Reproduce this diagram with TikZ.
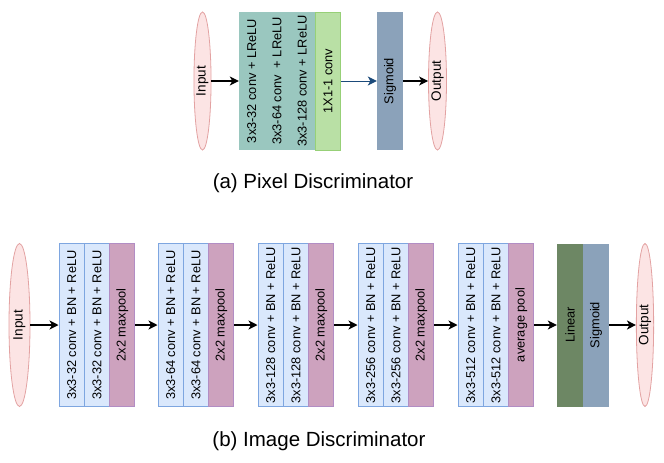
\documentclass[tikz,border=0pt]{standalone}
\usepackage{fontspec}
\setmainfont{Liberation Sans}
\usepackage{tikz}
\usetikzlibrary{arrows.meta,positioning,shapes.geometric}
\definecolor{iopink}{HTML}{FCE4E4}
\definecolor{iopinkline}{HTML}{E3A2A2}
\definecolor{lreluteal}{HTML}{9AC7BF}
\definecolor{onebyone}{HTML}{B9E0A5}
\definecolor{onebyoneline}{HTML}{97D077}
\definecolor{sigslate}{HTML}{8BA2BA}
\definecolor{convblue}{HTML}{DAE8FC}
\definecolor{convblueline}{HTML}{7EA6E0}
\definecolor{poolmauve}{HTML}{CDA2BE}
\definecolor{poolmauveline}{HTML}{B28DC4}
\definecolor{linmoss}{HTML}{6D8764}
\definecolor{flowblue}{HTML}{1B4A7A}
\tikzset{
  layer/.style={rotate=90,minimum height=25.3pt,inner sep=0pt,
    font=\fontsize{12.8}{14}\selectfont},
  tallA/.style={minimum width=138pt},
  tallB/.style={minimum width=163pt},
  ioball/.style={ellipse,rotate=90,fill=iopink,draw=iopinkline,line width=0.8pt,
    inner sep=0pt,font=\fontsize{13.5}{15}\selectfont},
  flow/.style={-{Stealth[length=9pt,width=9pt,inset=2.5pt]},line width=1.2pt},
}
\newcommand{\convstage}[4]{%
  % two conv columns and one pooling column, left edge at #2
  \node[layer,tallB,fill=convblue,draw=convblueline,line width=1pt] (#1a) at (#2+12.65,325)
    {3x3-#3 conv + BN + ReLU};
  \node[layer,tallB,fill=convblue,draw=convblueline,line width=1pt] (#1b) at (#2+37.95,325)
    {3x3-#3 conv + BN + ReLU};
  \node[layer,tallB,fill=poolmauve,draw=poolmauveline,line width=1pt] (#1p) at (#2+63.25,325)
    {#4};}

\begin{document}
\begin{tikzpicture}[x=1pt,y=-1pt]
  \useasboundingbox (0,0) rectangle (664,463);

  % (a) pixel discriminator
  \node[ioball,minimum width=138pt,minimum height=16pt] (pin) at (202.5,81) {Input};
  \node[layer,tallA,fill=lreluteal] (t1) at (251.65,81) {3x3-32 conv + LReLU};
  \node[layer,tallA,fill=lreluteal] (t2) at (276.95,81) {3x3-64 conv\ \ + LReLU};
  \node[layer,tallA,fill=lreluteal] (t3) at (302.25,81) {3x3-128 conv + LReLU};
  \node[layer,tallA,minimum height=25pt,fill=onebyone,draw=onebyoneline,line width=1pt]
    (g1) at (328,81) {1X1-1 conv};
  \node[layer,tallA,minimum height=26pt,fill=sigslate] (psig) at (390,81) {Sigmoid};
  \node[ioball,minimum width=138pt,minimum height=18pt] (pout) at (437.5,81) {Output};
  \draw[flow] (pin) -- (t1);
  \draw[flow,color=flowblue,line width=1pt] (g1) -- (psig);
  \draw[flow] (psig) -- (pout);
  \node[font=\fontsize{20.5}{24}\selectfont] (capa) at (313,183) {(a) Pixel Discriminator};

  % (b) image discriminator
  \node[ioball,minimum width=163pt,minimum height=21pt] (iin) at (19.5,325) {Input};
  \convstage{s1}{59}{32}{2x2 maxpool}
  \convstage{s2}{158}{64}{2x2 maxpool}
  \convstage{s3}{258}{128}{2x2 maxpool}
  \convstage{s4}{358}{256}{2x2 maxpool}
  \convstage{s5}{458}{512}{average pool}
  \node[layer,tallB,minimum height=26pt,fill=linmoss] (lin) at (570,325) {Linear};
  \node[layer,tallB,minimum height=26pt,fill=sigslate] (isig) at (596,325) {Sigmoid};
  \node[ioball,minimum width=163pt,minimum height=17pt] (iout) at (645,325) {Output};
  \draw[flow] (iin) -- (s1a);
  \draw[flow] (s1p) -- (s2a);
  \draw[flow] (s2p) -- (s3a);
  \draw[flow] (s3p) -- (s4a);
  \draw[flow] (s4p) -- (s5a);
  \draw[flow] (s5p) -- (lin);
  \draw[flow] (isig) -- (iout);
  \node[font=\fontsize{20.5}{24}\selectfont] (capb) at (319,441) {(b) Image Discriminator};
\end{tikzpicture}
\end{document}
